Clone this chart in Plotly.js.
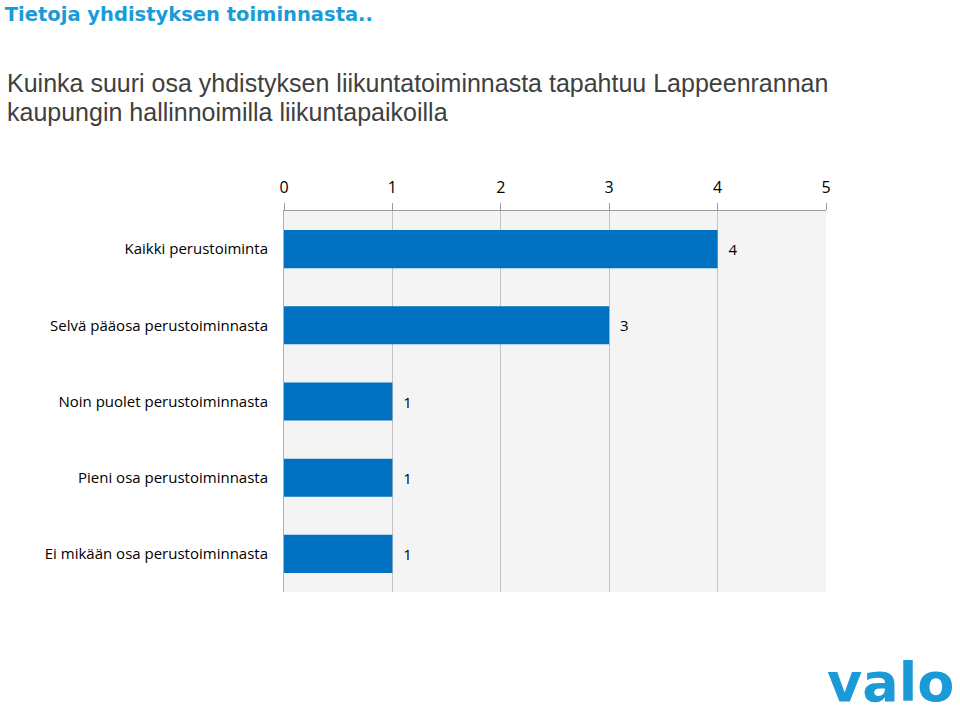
<!DOCTYPE html>
<html><head><meta charset="utf-8">
<script src="https://cdn.plot.ly/plotly-3.0.1.min.js"></script>
<style>html,body{margin:0;padding:0;background:#fff}#chart{width:960px;height:719px}</style>
</head><body><div id="chart"></div>
<script>
const categories = ["Kaikki perustoiminta","Selvä pääosa perustoiminnasta","Noin puolet perustoiminnasta","Pieni osa perustoiminnasta","Ei mikään osa perustoiminnasta"];
const values = [4,3,1,1,1];
const tickVals = [0,1,2,3,4,5];

const L=284, R=826, T=211, B=592;
const px = x => (x-L)/(R-L);
const py = y => (B-y)/(B-T);

const trace = {
  type:'bar', orientation:'h', x: values, y: categories,
  marker:{color:'#0070C0'},
  text: values.map(v => '\u00a0\u00a0' + v), textposition:'outside', cliponaxis:false,
  textfont:{family:'Open Sans, sans-serif', size:15, color:'#000'},
  hoverinfo:'none'
};
const subFont = {family:'Liberation Sans, Arial, sans-serif', size:25, color:'#404040'};
const layout = {
  width:960, height:719,
  margin:{l:L, r:960-R, t:T, b:719-B},
  paper_bgcolor:'#fff', plot_bgcolor:'#f4f4f4',
  showlegend:false, bargap:0.5,
  title:{text:'Tietoja yhdistyksen toiminnasta..', x:0.005, xanchor:'left', xref:'container', y:0.99, yanchor:'top', yref:'container',
    font:{family:'DejaVu Sans, sans-serif', size:19.5, color:'#1a9bd7', weight:'bold'}},
  xaxis:{range:[0,5], side:'top', tickvals:tickVals, ticktext:tickVals.map(String), ticks:'outside', ticklen:7, tickcolor:'#9a9a9a',
    showline:true, linecolor:'#9a9a9a', showgrid:true, gridcolor:'#c4c4c4', zeroline:false, fixedrange:true,
    ticklabelstandoff:4,
    tickfont:{family:'Open Sans, sans-serif', size:16, color:'#000'}},
  yaxis:{autorange:'reversed', showline:true, linecolor:'#b0b0b0', ticks:'', ticklen:0, showgrid:false,
    ticklabelstandoff:12,
    tickfont:{family:'Open Sans, sans-serif', size:15, color:'#000'}, automargin:false},
  annotations:[
    {xref:'paper', yref:'paper', x:px(5), y:py(83), xanchor:'left', yanchor:'middle', align:'left', showarrow:false,
     text:'Kuinka suuri osa yhdistyksen liikuntatoiminnasta tapahtuu Lappeenrannan', font:subFont},
    {xref:'paper', yref:'paper', x:px(5), y:py(112), xanchor:'left', yanchor:'middle', align:'left', showarrow:false,
     text:'kaupungin hallinnoimilla liikuntapaikoilla', font:subFont},
    {xref:'paper', yref:'paper', x:px(956), y:py(682), xanchor:'right', yanchor:'middle', showarrow:false,
     text:'valo', font:{family:'DejaVu Sans, sans-serif', size:54, color:'#1a9bd7', weight:'bold'}}
  ]
};
Plotly.newPlot('chart',[trace],layout,{displayModeBar:false,staticPlot:true});
</script></body></html>
